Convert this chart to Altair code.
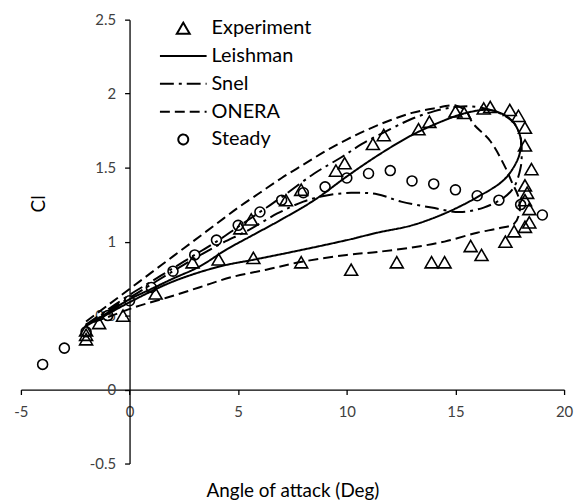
import altair as alt
import pandas as pd

series_order = ["Experiment", "Leishman", "Snel", "ONERA", "Steady"]

exp_alpha = [-2.0, -2.0, -2.0, -1.4, -0.3, 1.2, 2.9, 4.1, 5.1, 5.6, 5.7, 7.2, 7.9, 7.9, 9.5, 9.9,
             10.2, 11.2, 11.7, 12.3, 13.3, 13.8, 13.9, 14.5, 15.0, 15.4, 15.7, 16.2, 16.3, 16.6,
             17.3, 17.5, 17.7, 17.9, 18.2, 18.2, 18.5, 18.2, 18.3, 18.2, 18.4, 18.4, 18.2]
exp_cl = [0.40, 0.37, 0.34, 0.45, 0.50, 0.65, 0.86, 0.88, 1.09, 1.15, 0.89, 1.28, 1.35, 0.86, 1.48, 1.53,
          0.81, 1.66, 1.72, 0.86, 1.76, 1.81, 0.86, 0.86, 1.88, 1.87, 0.97, 0.91, 1.90, 1.91,
          1.00, 1.89, 1.07, 1.85, 1.77, 1.65, 1.49, 1.38, 1.33, 1.28, 1.22, 1.13, 1.10]

steady_alpha = [-4, -3, -2, -1, 0, 1, 2, 3, 4, 5, 6, 7, 8, 9, 10, 11, 12, 13, 14, 15, 16, 17, 18, 19]
steady_cl = [0.17, 0.28, 0.39, 0.50, 0.60, 0.69, 0.80, 0.91, 1.01, 1.11, 1.20, 1.28, 1.33, 1.37,
             1.43, 1.46, 1.48, 1.41, 1.39, 1.35, 1.31, 1.28, 1.25, 1.18]

leish_alpha = [-2.0, -1.0, 0.0, 1.0, 2.0, 3.2, 4.5, 5.5, 7.0, 8.5, 10.0, 11.4, 13.0, 14.5, 15.5, 16.5,
               17.2, 17.7, 18.0, 18.0, 17.85, 17.25, 16.0, 14.5, 13.0, 11.4, 10.0, 7.8, 5.8, 4.1,
               2.0, 0.0, -1.0, -2.0]
leish_cl = [0.43, 0.52, 0.61, 0.68, 0.75, 0.83, 0.95, 1.03, 1.15, 1.28, 1.44, 1.58, 1.72, 1.82, 1.87, 1.89,
            1.86, 1.80, 1.70, 1.63, 1.55, 1.42, 1.30, 1.19, 1.11, 1.06, 1.01, 0.94, 0.88, 0.83,
            0.73, 0.59, 0.51, 0.43]

snel_alpha = [-2.0, -1.0, 0.0, 1.0, 2.0, 3.0, 4.0, 5.0, 6.0, 7.0, 8.5, 9.75, 10.7, 12.0, 13.0, 14.0,
              15.0, 16.0, 17.0, 17.7, 18.0, 18.05, 18.0, 17.7, 17.25, 16.3, 15.2, 13.9, 12.5, 11.4,
              10.2, 9.0, 8.0, 6.8, 5.5, 4.0, 2.0, 0.0, -1.0, -2.0]
snel_cl = [0.44, 0.54, 0.64, 0.73, 0.82, 0.91, 1.00, 1.10, 1.20, 1.30, 1.46, 1.57, 1.66, 1.76, 1.83, 1.88,
           1.91, 1.91, 1.87, 1.80, 1.70, 1.60, 1.50, 1.37, 1.30, 1.23, 1.20, 1.23, 1.27, 1.32,
           1.33, 1.31, 1.27, 1.19, 1.08, 0.97, 0.80, 0.62, 0.53, 0.44]

onera_alpha = [-2.0, -1.0, 0.0, 1.0, 2.0, 3.0, 4.0, 5.0, 6.0, 7.0, 8.0, 9.0, 10.0, 11.0, 12.0, 13.0,
               14.0, 15.0, 15.5, 15.8, 16.6, 17.3, 17.6, 17.9, 17.95, 17.7, 17.0, 16.0, 14.5, 13.0,
               11.4, 10.0, 7.8, 6.3, 4.7, 3.2, 1.7, 0.3, -1.0, -2.0]
onera_cl = [0.46, 0.57, 0.68, 0.79, 0.90, 1.01, 1.12, 1.23, 1.33, 1.43, 1.52, 1.61, 1.69, 1.76, 1.82, 1.87,
            1.90, 1.92, 1.88, 1.80, 1.68, 1.50, 1.40, 1.30, 1.20, 1.12, 1.09, 1.06, 1.00, 0.96,
            0.93, 0.91, 0.86, 0.81, 0.76, 0.69, 0.62, 0.56, 0.49, 0.44]

x_ticks = [-5, 0, 5, 10, 15, 20]
y_ticks = [-0.5, 0, 0.5, 1, 1.5, 2, 2.5]

points = pd.DataFrame({
    "alpha": exp_alpha + steady_alpha,
    "cl": exp_cl + steady_cl,
    "series": ["Experiment"] * len(exp_alpha) + ["Steady"] * len(steady_alpha),
})

rows = []
for name, a_list, c_list in [("Leishman", leish_alpha, leish_cl),
                             ("Snel", snel_alpha, snel_cl),
                             ("ONERA", onera_alpha, onera_cl)]:
    for i, (a, c) in enumerate(zip(a_list, c_list)):
        rows.append({"alpha": a, "cl": c, "series": name, "idx": i})
lines = pd.DataFrame(rows)

W, H = 547, 447
FONT = "Lato"

x_enc = alt.X("alpha:Q",
              scale=alt.Scale(domain=[-5, 20], nice=False, zero=False),
              axis=alt.Axis(values=x_ticks, offset=-H / 6, title="Angle of attack (Deg)",
                            titleY=102, titleBaseline="middle", grid=False,
                            domainColor="black", tickColor="black", tickSize=5,
                            domainWidth=1.3, tickWidth=1.3,
                            labelFont=FONT, labelFontSize=15, labelColor="#404040",
                            labelPadding=10, labelExpr="'' + datum.value",
                            labelFlush=False, labelOverlap=False,
                            titleFont=FONT, titleFontSize=19, titleFontWeight="normal",
                            titleColor="black"))
y_enc = alt.Y("cl:Q",
              scale=alt.Scale(domain=[-0.5, 2.5], nice=False, zero=False),
              axis=alt.Axis(values=y_ticks, offset=-W / 5, title="Cl",
                            titleX=-92, titleY=185, titleAngle=270, titleAlign="center",
                            titleBaseline="middle", grid=False,
                            domainColor="black", tickColor="black", tickSize=5,
                            domainWidth=1.3, tickWidth=1.3,
                            labelFont=FONT, labelFontSize=15, labelColor="#404040",
                            labelPadding=9, labelExpr="'' + datum.value",
                            labelFlush=False, labelOverlap=False,
                            titleFont=FONT, titleFontSize=19, titleFontWeight="normal",
                            titleColor="black"))

LINE_PATH = "M-1,0L1,0"
shape_scale = alt.Scale(domain=series_order,
                        range=["triangle-up", LINE_PATH, LINE_PATH, LINE_PATH, "circle"])
size_scale = alt.Scale(type="ordinal", domain=series_order, range=[170, 2209, 2209, 2209, 100])
dash_scale = alt.Scale(domain=series_order,
                       range=[[1, 0], [1, 0], [14, 5, 3, 5], [10, 5], [1, 0]])

legend = alt.Legend(title=None, orient="none", legendX=139, legendY=-5,
                    clipHeight=27.3, rowPadding=0, padding=0,
                    labelFont=FONT, labelFontSize=20, labelColor="black", labelOffset=4,
                    labelBaseline="middle",
                    symbolStrokeWidth=2, symbolStrokeColor="black",
                    symbolFillColor="transparent", symbolOpacity=1)

line_layer = alt.Chart(lines).mark_line(
    color="black", strokeWidth=2, interpolate="catmull-rom"
).encode(
    x=x_enc, y=y_enc,
    strokeDash=alt.StrokeDash("series:N", scale=dash_scale, legend=legend),
    order=alt.Order("idx:Q"),
)

point_layer = alt.Chart(points).mark_point(
    filled=False, color="black", strokeWidth=1.6, opacity=1
).encode(
    x=x_enc, y=y_enc,
    shape=alt.Shape("series:N", scale=shape_scale, legend=legend),
    size=alt.Size("series:N", scale=size_scale, legend=legend),
)

chart = alt.layer(line_layer, point_layer).properties(
    width=W, height=H,
    autosize=alt.AutoSizeParams(type="none"),
    padding={"left": 13, "top": 10, "right": 12, "bottom": 38},
    background="white",
).configure_view(stroke=None)

chart.save("out.html", embed_options={"renderer": "svg", "actions": False})
